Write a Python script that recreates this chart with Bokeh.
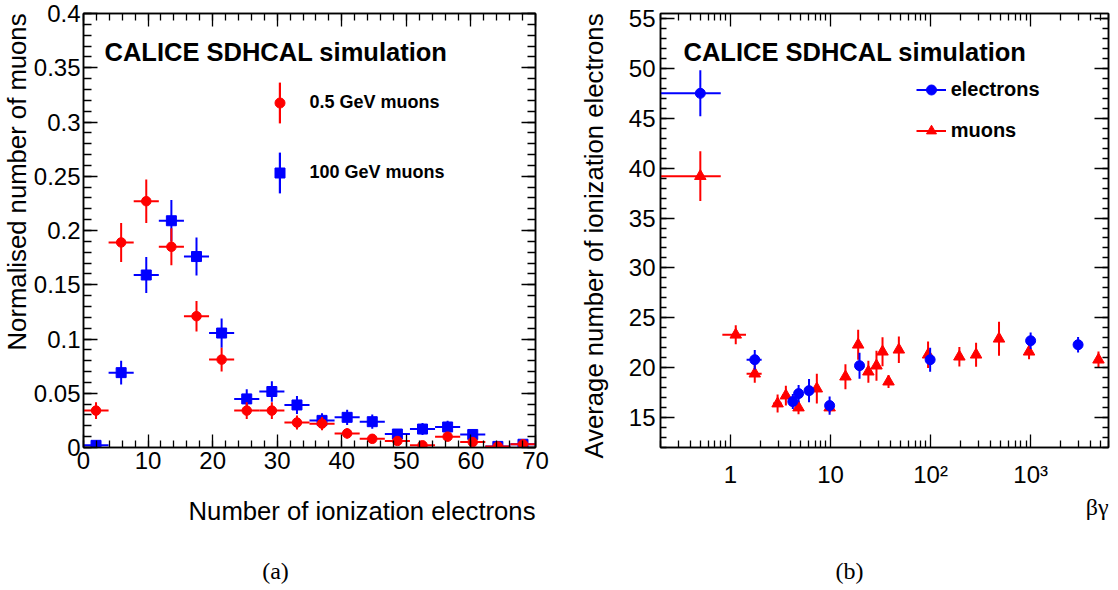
from math import pi
from bokeh.plotting import figure
from bokeh.layouts import row, column
from bokeh.models import (Range1d, FixedTicker, LinearAxis, LogAxis, Label, Legend, LegendItem,
                          NumeralTickFormatter, CustomJSTickFormatter, ColumnDataSource, Title)
from bokeh.embed import file_html
from bokeh.resources import INLINE

# ---------------- Panel (a) data ----------------
n_electrons_bins = [1.94, 5.83, 9.72, 13.61, 17.50, 21.39, 25.28, 29.17, 33.06,
                    36.94, 40.83, 44.72, 48.61, 52.50, 56.39, 60.28, 64.17, 68.06]
bin_half_width = 1.944
mu05_y = [0.034, 0.189, 0.227, 0.185, 0.121, 0.081, 0.034, 0.034, 0.023,
          0.022, 0.013, 0.008, 0.006, 0.002, 0.010, 0.005, 0.001, 0.003]
mu05_err = [0.0077, 0.018, 0.020, 0.017, 0.014, 0.011, 0.0077, 0.0077, 0.0064,
            0.0062, 0.0048, 0.0037, 0.0033, 0.0017, 0.0042, 0.0030, 0.0013, 0.0022]
mu100_y = [0.002, 0.069, 0.159, 0.209, 0.176, 0.1055, 0.0448, 0.0516, 0.0392,
           0.025, 0.0278, 0.0238, 0.0124, 0.017, 0.0189, 0.012, 0.001, 0.003]
mu100_err = [0.0013, 0.011, 0.0165, 0.019, 0.0175, 0.0135, 0.0089, 0.0095, 0.0083,
             0.0066, 0.0070, 0.0065, 0.0047, 0.0055, 0.0058, 0.0046, 0.0013, 0.0022]

# ---------------- Panel (b) data ----------------
muon_bg = [0.5, 1.13, 1.75, 2.96, 3.58, 4.79, 7.3, 9.8, 14.1, 18.9, 23.9, 28.8,
           33.1, 38.0, 48.2, 94.4, 194, 285, 483, 964, 4764]
muon_n = [39.2, 23.3, 19.4, 16.4, 17.2, 16.0, 17.9, 16.0, 19.1, 22.3, 19.6, 20.2,
          21.6, 18.6, 21.8, 21.3, 21.1, 21.3, 22.9, 21.6, 20.8]
muon_err = [2.5, 0.95, 0.9, 0.9, 1.0, 0.67, 1.5, 0.5, 1.25, 1.5, 1.1, 1.5,
            1.45, 0.63, 1.33, 1.33, 0.97, 1.2, 1.7, 0.75, 0.83]
elec_bg = [0.5, 1.75, 4.2, 4.8, 6.1, 9.8, 19.5, 99, 1000, 2980]
elec_n = [47.5, 20.8, 16.6, 17.4, 17.7, 16.2, 20.2, 20.8, 22.7, 22.3]
elec_err = [2.3, 0.97, 0.75, 0.87, 1.17, 0.92, 1.3, 1.2, 0.83, 0.78]
bg_half_err = 0.3

FONT = "Liberation Sans"
SERIF = "Liberation Serif"
RED = "#ff0000"
BLUE = "#0000ff"
BAR_W_A = 0.31   # vertical error-bar thickness in panel (a), x data units (~2 px)


def style_axis(ax, major_in, minor_in):
    ax.major_tick_in = major_in
    ax.major_tick_out = 0
    ax.minor_tick_in = minor_in
    ax.minor_tick_out = 0
    ax.major_tick_line_color = "black"
    ax.minor_tick_line_color = "black"
    ax.major_tick_line_width = 1.3
    ax.minor_tick_line_width = 1.3
    ax.axis_line_color = "black"
    ax.axis_line_width = 1.5
    ax.major_label_text_font = FONT
    ax.major_label_text_font_size = "24px"
    ax.major_label_text_color = "black"


def mirror(p, side, axis_cls, ticker, major_in, minor_in):
    ax = axis_cls(ticker=ticker, formatter=CustomJSTickFormatter(code="return ''"))
    style_axis(ax, major_in, minor_in)
    ax.major_label_standoff = 0
    p.add_layout(ax, side)


def label(p, x, y, text, size, font=FONT, style="normal", align="left", baseline="alphabetic"):
    p.add_layout(Label(x=x, y=y, x_units="screen", y_units="screen", text=text,
                       text_font=font, text_font_size=size, text_font_style=style,
                       text_align=align, text_baseline=baseline, text_color="black"))


def title(p, side, text, size, standoff, font=FONT, valign="bottom"):
    p.add_layout(Title(text=text, align="right", vertical_align=valign, standoff=standoff,
                       text_font=font, text_font_size=size, text_font_style="normal",
                       text_color="black"), side)


def base_fig(**kw):
    p = figure(output_backend="svg", toolbar_location=None, **kw)
    p.xgrid.visible = False
    p.ygrid.visible = False
    p.outline_line_color = "black"
    p.outline_line_width = 1.5
    p.background_fill_color = "white"
    p.border_fill_color = "white"
    return p


# ================= Panel (a) =================
pA = base_fig(width=560, height=552, x_range=Range1d(0, 70), y_range=Range1d(0, 0.4),
              min_border_left=83, min_border_right=25, min_border_top=13, min_border_bottom=105)

xtA = FixedTicker(ticks=list(range(0, 71, 10)), minor_ticks=list(range(0, 71, 2)))
ytA = FixedTicker(ticks=[0, 0.05, 0.1, 0.15, 0.2, 0.25, 0.3, 0.35, 0.4],
                  minor_ticks=[i / 100 for i in range(0, 41)])
axA = pA.below[0]
axA.ticker = xtA
style_axis(axA, 13, 7)
axA.major_label_standoff = 4
ayA = pA.left[0]
ayA.ticker = ytA
ayA.formatter = NumeralTickFormatter(format="0.[00]")
style_axis(ayA, 14, 8)
ayA.major_label_standoff = 3
mirror(pA, "above", LinearAxis, xtA, 13, 7)
mirror(pA, "right", LinearAxis, ytA, 14, 8)


def hist_points(p, y, err, color, marker, size):
    src = ColumnDataSource(dict(
        x=n_electrons_bins, y=y,
        x0=[a - bin_half_width for a in n_electrons_bins],
        x1=[a + bin_half_width for a in n_electrons_bins],
        lo=[b - e for b, e in zip(y, err)], hi=[b + e for b, e in zip(y, err)]))
    p.segment(x0="x0", y0="y", x1="x1", y1="y", source=src, line_color=color, line_width=2)
    bars = p.vbar(x="x", bottom="lo", top="hi", width=BAR_W_A, source=src,
                  fill_color=color, line_color=None)
    pts = p.scatter(x="x", y="y", source=src, marker=marker, size=size,
                    fill_color=color, line_color=color)
    return bars, pts


bar_b, sq = hist_points(pA, mu100_y, mu100_err, BLUE, "square", 10)
bar_r, ci = hist_points(pA, mu05_y, mu05_err, RED, "circle", 9.5)

legA_bars = Legend(items=[LegendItem(label=" ", renderers=[bar_r]),
                          LegendItem(label=" ", renderers=[bar_b])],
                   location=(194.5, 249.2), orientation="vertical",
                   glyph_width=3, glyph_height=51, spacing=19, padding=0, margin=0,
                   border_line_color=None, background_fill_alpha=0,
                   label_text_font_size="8px", label_standoff=0, label_width=1, label_height=1)
pA.add_layout(legA_bars)
legA = Legend(items=[LegendItem(label="0.5 GeV muons", renderers=[ci]),
                     LegendItem(label="100 GeV muons", renderers=[sq])],
              location=(183.5, 254.2), orientation="vertical",
              glyph_width=25, glyph_height=41, spacing=29, padding=0, margin=0,
              border_line_color=None, background_fill_alpha=0,
              label_text_font=FONT, label_text_font_style="bold", label_text_color="black",
              label_text_font_size="18px", label_standoff=18)
pA.add_layout(legA)

label(pA, 21, 395.3, "CALICE SDHCAL simulation", "25.5px", style="bold")
title(pA, "below", "Number of ionization electrons", "25.7px", 46)
title(pA, "left", "Normalised number of muons", "25.7px", 0)

# ================= Panel (b) =================
pB = base_fig(width=550, height=552, x_axis_type="log", x_range=Range1d(0.2, 6000),
              y_range=Range1d(12, 55.5),
              min_border_left=96, min_border_right=2, min_border_top=13, min_border_bottom=105)

minor_log = ([0.2, 0.3, 0.4, 0.5, 0.6, 0.7, 0.8, 0.9] + [2, 3, 4, 5, 6, 7, 8, 9]
             + [20, 30, 40, 50, 60, 70, 80, 90] + [200, 300, 400, 500, 600, 700, 800, 900]
             + [2000, 3000, 4000, 5000, 6000])
xtB = FixedTicker(ticks=[1, 10, 100, 1000], minor_ticks=minor_log)
ytB = FixedTicker(ticks=list(range(15, 56, 5)), minor_ticks=list(range(12, 56)))
axB = pB.below[0]
axB.ticker = xtB
axB.major_label_overrides = {1: "1", 10: "10", 100: "10²", 1000: "10³"}
style_axis(axB, 13, 7)
axB.major_label_standoff = 13
ayB = pB.left[0]
ayB.ticker = ytB
style_axis(ayB, 14, 6)
ayB.major_label_standoff = 5
mirror(pB, "above", LogAxis, xtB, 13, 7)
mirror(pB, "right", LinearAxis, ytB, 14, 6)


def bg_points(p, x, y, err, color, marker, size):
    src = ColumnDataSource(dict(
        x=x, y=y, x0=[a - bg_half_err for a in x], x1=[a + bg_half_err for a in x],
        lo=[b - e for b, e in zip(y, err)], hi=[b + e for b, e in zip(y, err)]))
    h = p.segment(x0="x0", y0="y", x1="x1", y1="y", source=src, line_color=color, line_width=2)
    p.segment(x0="x", y0="lo", x1="x", y1="hi", source=src, line_color=color, line_width=2)
    pts = p.scatter(x="x", y="y", source=src, marker=marker, size=size,
                    fill_color=color, line_color=color)
    return h, pts


mh, tr = bg_points(pB, muon_bg, muon_n, muon_err, RED, "triangle", 11.5)
eh, ec = bg_points(pB, elec_bg, elec_n, elec_err, BLUE, "circle", 10)

legB = Legend(items=[LegendItem(label="electrons", renderers=[eh, ec]),
                     LegendItem(label="muons", renderers=[mh, tr])],
              location=(255.7, 304.2), orientation="vertical",
              glyph_width=30, glyph_height=25, spacing=16, padding=0, margin=0,
              border_line_color=None, background_fill_alpha=0,
              label_text_font=FONT, label_text_font_style="bold", label_text_color="black",
              label_text_font_size="20px", label_standoff=5)
pB.add_layout(legB)

label(pB, 23, 395.3, "CALICE SDHCAL simulation", "25.5px", style="bold")
title(pB, "below", "βγ", "24px", 2, font=SERIF)
title(pB, "left", "Average number of ionization electrons", "25.7px", 35)

# ================= captions =================
pC = figure(width=1110, height=38, x_range=Range1d(0, 1110), y_range=Range1d(0, 38),
            output_backend="svg", toolbar_location=None, x_axis_location=None,
            y_axis_location=None, min_border=0)
pC.xgrid.visible = False
pC.ygrid.visible = False
pC.outline_line_color = None
pC.background_fill_color = "white"
pC.border_fill_color = "white"
label(pC, 275, 19.6, "(a)", "24px", font=SERIF, align="center")
label(pC, 849, 19.6, "(b)", "24px", font=SERIF, align="center")

layout = column(row(pA, pB), pC)
open("out.html", "w").write(file_html(layout, INLINE))
